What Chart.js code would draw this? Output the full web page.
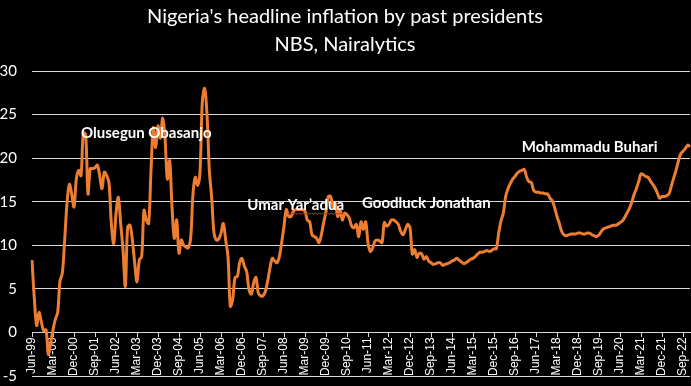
<!DOCTYPE html>
<html>
<head>
<meta charset="utf-8">
<script src="https://cdn.jsdelivr.net/npm/chart.js@4.4.0/dist/chart.umd.min.js"></script>
<style>
  html, body { margin: 0; padding: 0; background: #000; }
  #wrap { width: 691px; height: 386px; }
</style>
</head>
<body>
<div id="wrap"><canvas id="inflationChart"></canvas></div>
<script>
// headline inflation (%), monthly, Jun-99 .. Dec-22
const y1999 = [8.3, 3.9, 0.8, 2.3, 1.2, 0.2, 0.3]; // Jun-Dec
const y2000 = [-2.5, -1.2, 0.3, 1.5, 2.3, 5.9, 6.8, 10.6, 14.8, 17.0, 15.9, 14.4];
const y2001 = [17.6, 18.6, 18.0, 22.9, 22.7, 15.9, 18.8, 18.8, 18.9, 19.2, 18.0, 16.5];
const y2002 = [18.4, 18.0, 17.2, 12.5, 10.2, 13.6, 15.5, 12.5, 9.5, 5.3, 12.1, 12.3];
const y2003 = [10.6, 8.0, 5.8, 8.3, 8.7, 14.0, 12.9, 12.5, 18.6, 23.5, 21.2, 23.7];
const y2004 = [22.3, 24.6, 22.3, 17.6, 19.7, 14.4, 10.8, 12.9, 9.1, 10.6, 10.0, 9.8];
const y2005 = [9.7, 10.8, 15.9, 17.8, 16.9, 18.4, 26.5, 28.0, 25.0, 18.6, 15.5, 11.4];
const y2006 = [10.6, 10.7, 11.4, 12.5, 10.6, 8.7, 3.0, 3.8, 6.3, 6.4, 8.0, 8.5];
const y2007 = [7.6, 7.0, 4.9, 4.4, 5.7, 6.3, 4.5, 4.2, 4.2, 4.7, 5.9, 7.4];
const y2008 = [8.5, 8.2, 8.0, 8.7, 10.3, 12.2, 14.1, 13.3, 13.3, 13.9, 14.1, 14.1];
const y2009 = [14.1, 14.1, 13.9, 12.9, 12.7, 11.2, 11.0, 10.8, 10.3, 11.2, 12.6, 13.9];
const y2010 = [15.6, 15.6, 14.3, 14.8, 13.3, 14.1, 12.9, 13.7, 13.5, 13.1, 12.2, 12.0];
const y2011 = [12.4, 11.0, 12.7, 11.8, 12.7, 10.3, 9.3, 9.7, 10.5, 10.6, 10.5, 10.3];
const y2012 = [12.6, 12.2, 12.4, 12.9, 12.9, 12.7, 12.4, 11.6, 11.2, 11.8, 12.4, 12.0];
const y2013 = [9.0, 9.5, 8.6, 9.1, 9.0, 8.4, 8.7, 8.2, 8.0, 7.8, 7.9, 8.0];
const y2014 = [8.0, 7.7, 7.8, 7.9, 8.0, 8.2, 8.3, 8.5, 8.3, 8.1, 7.9, 8.0];
const y2015 = [8.2, 8.4, 8.5, 8.7, 9.0, 9.2, 9.2, 9.3, 9.4, 9.3, 9.4, 9.6];
const y2016 = [9.6, 11.4, 12.8, 13.7, 15.6, 16.5, 17.1, 17.6, 17.9, 18.3, 18.5, 18.6];
const y2017 = [18.7, 17.8, 17.3, 17.2, 16.3, 16.1, 16.1, 16.0, 16.0, 15.9, 15.9, 15.4];
const y2018 = [15.1, 14.3, 13.3, 12.5, 11.6, 11.2, 11.1, 11.2, 11.3, 11.3, 11.3, 11.4];
const y2019 = [11.4, 11.3, 11.3, 11.4, 11.4, 11.2, 11.1, 11.0, 11.2, 11.6, 11.9, 12.0];
const y2020 = [12.1, 12.2, 12.3, 12.3, 12.4, 12.6, 12.8, 13.2, 13.7, 14.2, 14.9, 15.8];
const y2021 = [16.5, 17.3, 18.2, 18.1, 17.9, 17.8, 17.4, 17.0, 16.6, 16.0, 15.4, 15.6];
const y2022 = [15.6, 15.7, 15.9, 16.8, 17.7, 18.6, 19.6, 20.5, 20.8, 21.1, 21.5, 21.3];

const monthNames = ['Jan', 'Feb', 'Mar', 'Apr', 'May', 'Jun', 'Jul', 'Aug', 'Sep', 'Oct', 'Nov', 'Dec'];
const tickLabels = ['Jun-99', 'Mar-00', 'Dec-00', 'Sep-01', 'Jun-02', 'Mar-03', 'Dec-03', 'Sep-04',
  'Jun-05', 'Mar-06', 'Dec-06', 'Sep-07', 'Jun-08', 'Mar-09', 'Dec-09', 'Sep-10', 'Jun-11', 'Mar-12',
  'Dec-12', 'Sep-13', 'Jun-14', 'Mar-15', 'Dec-15', 'Sep-16', 'Jun-17', 'Mar-18', 'Dec-18', 'Sep-19',
  'Jun-20', 'Mar-21', 'Dec-21', 'Sep-22'];

const presidents = ['Olusegun Obasanjo', 'Umar Yar’adua', 'Goodluck Jonathan', 'Mohammadu Buhari'];
// where each name sits: [category, value]
const presidentAnchors = [['Jul-03', 22.9], ['Nov-08', 14.6], ['Jul-13', 14.8], ['May-19', 21.3]];

const years = [y1999, y2000, y2001, y2002, y2003, y2004, y2005, y2006, y2007, y2008, y2009, y2010,
  y2011, y2012, y2013, y2014, y2015, y2016, y2017, y2018, y2019, y2020, y2021, y2022];

const labels = [];
const inflation = [];
years.forEach((vals, i) => {
  const yr = 1999 + i;
  const firstMonth = 12 - vals.length;
  vals.forEach((v, j) => {
    labels.push(monthNames[firstMonth + j] + '-' + String(yr).slice(2));
    inflation.push(v);
  });
});

const presidentNames = {
  id: 'presidentNames',
  afterDatasetsDraw(chart) {
    const { ctx, scales } = chart;
    ctx.save();
    ctx.font = 'bold 15px Lato';
    ctx.fillStyle = '#ffffff';
    ctx.textAlign = 'center';
    ctx.textBaseline = 'middle';
    presidents.forEach((name, i) => {
      const x = scales.x.getPixelForValue(labels.indexOf(presidentAnchors[i][0]));
      const y = scales.y.getPixelForValue(presidentAnchors[i][1]);
      ctx.fillText(name, x, y);
      if (name.indexOf('’') > -1) {
        // spell-check squiggle under the surname
        const w = ctx.measureText(name).width;
        const start = x - w / 2 + ctx.measureText('Umar ').width;
        const end = x + w / 2;
        ctx.strokeStyle = '#e02020';
        ctx.lineWidth = 1;
        ctx.beginPath();
        for (let px = start, k = 0; px <= end; px += 2, k++) {
          const py = y + 8 + (k % 2 ? 1 : 0);
          if (k === 0) ctx.moveTo(px, py); else ctx.lineTo(px, py);
        }
        ctx.stroke();
      }
    });
    ctx.restore();
  }
};

const ctx = document.getElementById('inflationChart').getContext('2d');
const chart = new Chart(ctx, {
  type: 'line',
  data: {
    labels: labels,
    datasets: [{
      label: 'Headline inflation',
      data: inflation,
      borderColor: '#ed7d31',
      borderWidth: 3,
      pointRadius: 0,
      tension: 0.35,
      fill: false
    }]
  },
  options: {
    responsive: true,
    maintainAspectRatio: false,
    animation: false,
    layout: { padding: { left: 0, right: 1, top: 0, bottom: 10 } },
    scales: {
      x: {
        position: { y: 0 },
        afterFit: (scale) => { scale.height = 0; scale.paddingLeft = 0; scale.paddingRight = 0; },
        grid: { drawOnChartArea: false, drawTicks: true, tickLength: 4, color: '#d9d9d9' },
        border: { display: true, color: '#d9d9d9', width: 1 },
        ticks: {
          autoSkip: false,
          minRotation: 90,
          maxRotation: 90,
          padding: 1,
          color: '#ffffff',
          font: { family: 'Liberation Sans', size: 12 },
          callback: function (val) {
            const lab = this.getLabelForValue(val);
            return tickLabels.includes(lab) ? lab : null;
          }
        }
      },
      y: {
        min: -5,
        max: 30,
        afterFit: (scale) => { scale.width = 32; scale.paddingTop = 9; scale.paddingBottom = 9; },
        grid: { color: '#d9d9d9', drawTicks: false },
        border: { display: false },
        ticks: {
          stepSize: 5,
          padding: 15,
          color: '#ffffff',
          font: { family: 'Lato', size: 15 }
        }
      }
    },
    plugins: {
      legend: { display: false },
      tooltip: { enabled: false },
      title: {
        display: true,
        text: ['Nigeria\'s headline inflation by past presidents', 'NBS, Nairalytics'],
        color: '#ffffff',
        font: { family: 'Lato', size: 20, weight: 'normal', lineHeight: 1.4 },
        padding: { top: 3, bottom: 12 }
      }
    }
  },
  plugins: [presidentNames]
});
</script>
</body>
</html>
